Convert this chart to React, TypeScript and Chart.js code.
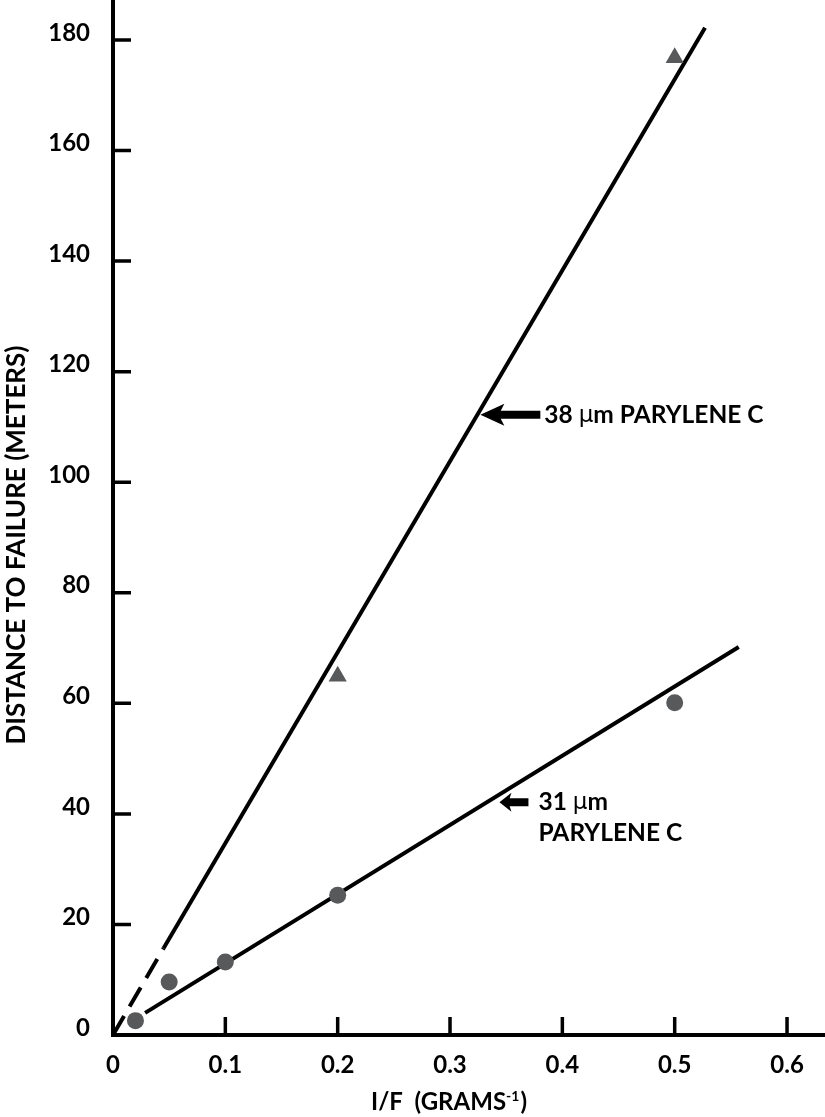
import React, { useEffect, useRef } from "react";
import { Chart, registerables } from "chart.js";

Chart.register(...registerables);

// ---- data ----
const xTicks = [0, 0.1, 0.2, 0.3, 0.4, 0.5, 0.6];
const yTicks = [0, 20, 40, 60, 80, 100, 120, 140, 160, 180];

// 38 µm Parylene C (triangles)
const p38X = [0.2, 0.5];
const p38Y = [64.9, 176.8];
// 31 µm Parylene C (circles)
const p31X = [0.02, 0.05, 0.1, 0.2, 0.5];
const p31Y = [2.6, 9.6, 13.2, 25.3, 60.1];

// fitted lines
const fit38SolidX = [0.045, 0.527];
const fit38SolidY = [15.7, 182.2];
const fit38DashX = [0, 0.045];
const fit38DashY = [0, 15.7];
const fit31X = [0.0286, 0.557];
const fit31Y = [4.0, 70.2];

// annotation anchors (arrow tips, data coords)
const label38 = { x: 0.327, y: 112.2 };
const label31 = { x: 0.344, y: 42.1 };

const FONT = "Lato, 'Noto Sans', sans-serif";
const MARK = "#58595b";

const pts = (xs: number[], ys: number[]) => xs.map((x, i) => ({ x, y: ys[i] }));

const decorPlugin = {
  id: "decor",
  beforeDatasetsDraw(chart: any) {
    const { ctx, chartArea } = chart;
    const xs = chart.scales.x;
    const ys = chart.scales.y;
    ctx.save();
    ctx.strokeStyle = "#000";
    ctx.lineCap = "butt";
    // axes
    ctx.lineWidth = 4;
    ctx.beginPath();
    ctx.moveTo(chartArea.left, chartArea.top);
    ctx.lineTo(chartArea.left, chartArea.bottom + 2);
    ctx.moveTo(chartArea.left - 2, chartArea.bottom);
    ctx.lineTo(chartArea.right, chartArea.bottom);
    ctx.stroke();
    // inward ticks
    ctx.lineWidth = 3.5;
    ctx.beginPath();
    xTicks.forEach((v) => {
      if (v === 0) return;
      const px = xs.getPixelForValue(v);
      ctx.moveTo(px, chartArea.bottom);
      ctx.lineTo(px, chartArea.bottom - 18);
    });
    yTicks.forEach((v) => {
      if (v === 0) return;
      const py = ys.getPixelForValue(v);
      ctx.moveTo(chartArea.left, py);
      ctx.lineTo(chartArea.left + 18, py);
    });
    ctx.stroke();
    ctx.restore();
  },
  afterDraw(chart: any) {
    const { ctx, chartArea } = chart;
    const xs = chart.scales.x;
    const ys = chart.scales.y;
    ctx.save();
    ctx.fillStyle = "#000";

    // y axis title
    ctx.save();
    ctx.translate(17, 545);
    ctx.rotate(-Math.PI / 2);
    ctx.font = `bold 26px ${FONT}`;
    ctx.textAlign = "center";
    ctx.textBaseline = "middle";
    ctx.fillText("DISTANCE TO FAILURE (METERS)", 0, 0);
    ctx.restore();

    // x axis title with superscript
    {
      const main = "I/F  (GRAMS";
      const sup = "-1";
      const close = ")";
      const mainFont = `bold 24px ${FONT}`;
      const supFont = `bold 14px ${FONT}`;
      ctx.font = mainFont;
      const w1 = ctx.measureText(main).width;
      const w3 = ctx.measureText(close).width;
      ctx.font = supFont;
      const w2 = ctx.measureText(sup).width;
      const total = w1 + w2 + w3 + 1;
      let x = 449 - total / 2;
      const base = chartArea.bottom + 75;
      ctx.textAlign = "left";
      ctx.textBaseline = "alphabetic";
      ctx.font = mainFont;
      ctx.fillText(main, x, base);
      x += w1;
      ctx.font = supFont;
      ctx.fillText(sup, x, base - 9);
      x += w2 + 1;
      ctx.font = mainFont;
      ctx.fillText(close, x, base);
    }

    const drawArrow = (tipX: number, tipY: number, headLen: number, headHalf: number, shaftEnd: number, thick: number) => {
      ctx.beginPath();
      ctx.moveTo(tipX, tipY);
      ctx.lineTo(tipX + headLen, tipY - headHalf);
      ctx.lineTo(tipX + headLen * 0.85, tipY - thick / 2);
      ctx.lineTo(shaftEnd, tipY - thick / 2);
      ctx.lineTo(shaftEnd, tipY + thick / 2);
      ctx.lineTo(tipX + headLen * 0.85, tipY + thick / 2);
      ctx.lineTo(tipX + headLen, tipY + headHalf);
      ctx.closePath();
      ctx.fill();
    };

    const drawMuText = (x: number, y: number, pre: string, post: string) => {
      ctx.textAlign = "left";
      ctx.textBaseline = "middle";
      ctx.font = `bold 24.5px ${FONT}`;
      ctx.fillText(pre, x, y);
      x += ctx.measureText(pre).width;
      ctx.font = `23px 'DejaVu Sans', sans-serif`;
      ctx.fillText("\u03bc", x, y + 1);
      x += ctx.measureText("\u03bc").width;
      ctx.font = `bold 24.5px ${FONT}`;
      ctx.fillText(post, x, y);
    };

    // 38 µm label
    {
      const tx = xs.getPixelForValue(label38.x);
      const ty = ys.getPixelForValue(label38.y);
      drawArrow(tx, ty, 24, 11, tx + 60, 8);
      drawMuText(tx + 64, ty, "38 ", "m PARYLENE C");
    }
    // 31 µm label
    {
      const tx = xs.getPixelForValue(label31.x);
      const ty = ys.getPixelForValue(label31.y);
      drawArrow(tx, ty, 12, 9.5, tx + 29, 8);
      drawMuText(tx + 39, ty, "31 ", "m");
      ctx.font = `bold 24.5px ${FONT}`;
      ctx.textAlign = "left";
      ctx.textBaseline = "middle";
      ctx.fillText("PARYLENE C", tx + 39, ty + 31);
    }
    ctx.restore();
  },
};

export default function App() {
  const ref = useRef<HTMLCanvasElement>(null);
  useEffect(() => {
    if (!ref.current) return;
    const chart = new Chart(ref.current, {
      type: "scatter",
      data: {
        datasets: [
          {
            label: "38 µm PARYLENE C",
            data: pts(p38X, p38Y),
            pointStyle: "triangle",
            pointRadius: 10.5,
            backgroundColor: MARK,
            borderColor: MARK,
            borderWidth: 0,
            order: 0,
          },
          {
            label: "31 µm PARYLENE C",
            data: pts(p31X, p31Y),
            pointStyle: "circle",
            pointRadius: 8.5,
            backgroundColor: MARK,
            borderColor: MARK,
            borderWidth: 0,
            order: 0,
          },
          {
            type: "line",
            label: "fit 38",
            data: pts(fit38SolidX, fit38SolidY),
            borderColor: "#000",
            borderWidth: 4,
            pointRadius: 0,
            showLine: true,
            fill: false,
            order: 1,
          },
          {
            type: "line",
            label: "fit 38 extrapolated",
            data: pts(fit38DashX, fit38DashY),
            borderColor: "#000",
            borderWidth: 4,
            borderDash: [22, 11],
            pointRadius: 0,
            showLine: true,
            fill: false,
            order: 1,
          },
          {
            type: "line",
            label: "fit 31",
            data: pts(fit31X, fit31Y),
            borderColor: "#000",
            borderWidth: 4,
            pointRadius: 0,
            showLine: true,
            fill: false,
            order: 1,
          },
        ] as any,
      },
      options: {
        responsive: false,
        animation: false,
        devicePixelRatio: 1,
        layout: { padding: 0, autoPadding: false },
        plugins: {
          legend: { display: false },
          tooltip: { enabled: false },
        },
        scales: {
          x: {
            type: "linear",
            min: 0,
            max: 0.6338,
            grid: { display: false, drawTicks: false },
            border: { display: false },
            afterBuildTicks: (scale: any) => {
              scale.ticks = xTicks.map((v) => ({ value: v }));
            },
            afterFit: (scale: any) => {
              scale.height = 82;
              scale.paddingLeft = 0;
              scale.paddingRight = 0;
            },
            ticks: {
              color: "#000",
              font: { family: FONT, size: 24, weight: "bold" },
              padding: 16,
              maxRotation: 0,
              autoSkip: false,
              callback: (v: any) => String(v),
            },
          },
          y: {
            type: "linear",
            min: 0,
            max: 187.23,
            grid: { display: false, drawTicks: false },
            border: { display: false },
            afterBuildTicks: (scale: any) => {
              scale.ticks = yTicks.map((v) => ({ value: v }));
            },
            afterFit: (scale: any) => {
              scale.width = 113;
              scale.paddingTop = 0;
              scale.paddingBottom = 0;
            },
            ticks: {
              color: "#000",
              font: { family: FONT, size: 24, weight: "bold" },
              padding: 23,
              labelOffset: -7,
              autoSkip: false,
              callback: (v: any) => String(v),
            },
          },
        },
      },
      plugins: [decorPlugin],
    });
    document.fonts && document.fonts.ready.then(() => {
      try { chart.update(); } catch (e) {}
    });
    return () => chart.destroy();
  }, []);
  return (
    <div style={{ position: "fixed", left: 0, top: 0, width: 825, height: 1117, background: "#fff" }}>
      <canvas ref={ref} width={825} height={1117} style={{ width: 825, height: 1117, display: "block" }} />
    </div>
  );
}
